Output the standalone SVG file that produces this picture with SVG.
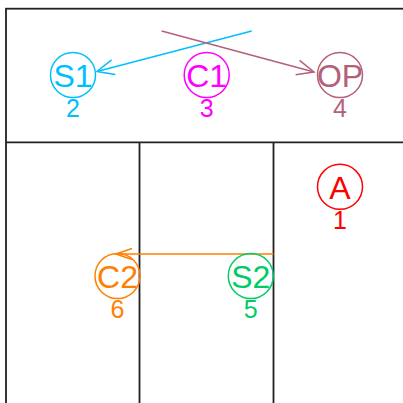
<svg xmlns="http://www.w3.org/2000/svg" width="403" height="403" viewBox="0 0 403 403">
<defs>
<style>
.grid{fill:none;stroke:#222;stroke-width:1.8}
.node circle{fill:none;stroke-width:1.5}
.lbl{font-family:"Liberation Sans",Arial,sans-serif;font-size:32px;text-anchor:middle}
.num{font-family:"Liberation Sans",Arial,sans-serif;font-size:25px;text-anchor:middle}
.edge{fill:none;stroke-width:1.5}
</style>
<marker id="ab" markerUnits="userSpaceOnUse" markerWidth="24" markerHeight="24" viewBox="-20 -12 24 24" refX="0" refY="0" orient="auto"><path d="M-17,-7.5 L0,0 L-17,7.5" fill="none" stroke="#00bfff" stroke-width="1.5"/></marker>
<marker id="am" markerUnits="userSpaceOnUse" markerWidth="24" markerHeight="24" viewBox="-20 -12 24 24" refX="0" refY="0" orient="auto"><path d="M-17,-7.5 L0,0 L-17,7.5" fill="none" stroke="#b5607a" stroke-width="1.5"/></marker>
<marker id="ao" markerUnits="userSpaceOnUse" markerWidth="24" markerHeight="24" viewBox="-20 -12 24 24" refX="0" refY="0" orient="auto"><path d="M-16,-5.5 L0,0 L-16,5.5" fill="none" stroke="#ff8000" stroke-width="1.5"/></marker>
</defs>
<g id="grid" class="grid">
<rect x="6" y="8.7" width="500" height="500"/>
<line x1="6" y1="142.3" x2="403" y2="142.3"/>
<line x1="139.5" y1="142.3" x2="139.5" y2="403"/>
<line x1="273.5" y1="142.3" x2="273.5" y2="403"/>
</g>
<g id="connectors">
<line class="edge" x1="251.7" y1="31" x2="97" y2="71.5" stroke="#00bfff" marker-end="url(#ab)"/>
<line class="edge" x1="161.7" y1="31" x2="314" y2="72" stroke="#b5607a" marker-end="url(#am)"/>
<line class="edge" x1="273.5" y1="254" x2="116" y2="254" stroke="#ff8000" marker-end="url(#ao)"/>
</g>
<g id="A" class="node"><circle cx="340" cy="186.8" r="22.5" stroke="#ff0000"/><text class="lbl" x="340" y="198.5" fill="#ff0000">A</text><text class="num" x="340" y="229.3" fill="#ff0000">1</text></g>
<g id="S1" class="node"><circle cx="73" cy="75" r="22.5" stroke="#00bfff"/><text class="lbl" x="73" y="87" fill="#00bfff">S1</text><text class="num" x="73" y="117.3" fill="#00bfff">2</text></g>
<g id="C1" class="node"><circle cx="206.7" cy="75" r="22.5" stroke="#ff00ff"/><text class="lbl" x="206.7" y="87" fill="#ff00ff">C1</text><text class="num" x="206.7" y="117.3" fill="#ff00ff">3</text></g>
<g id="OP" class="node"><circle cx="340" cy="75" r="22.5" stroke="#b5607a"/><text class="lbl" x="340" y="87" fill="#b5607a">OP</text><text class="num" x="340" y="117.3" fill="#b5607a">4</text></g>
<g id="S2" class="node"><circle cx="250.8" cy="276" r="22.5" stroke="#00cc66"/><text class="lbl" x="250.8" y="287.5" fill="#00cc66">S2</text><text class="num" x="250.8" y="318.3" fill="#00cc66">5</text></g>
<g id="C2" class="node"><circle cx="117.5" cy="276" r="22.5" stroke="#ff8000"/><text class="lbl" x="117.5" y="287.5" fill="#ff8000">C2</text><text class="num" x="117.5" y="318.3" fill="#ff8000">6</text></g>
</svg>
